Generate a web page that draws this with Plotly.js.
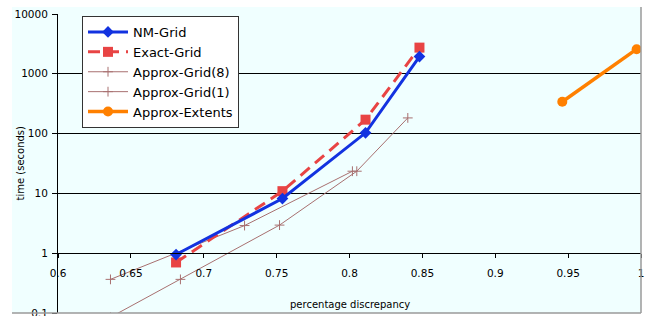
<!DOCTYPE html>
<html>
<head>
<meta charset="utf-8">
<script src="https://cdn.plot.ly/plotly-3.0.1.min.js"></script>
<style>
html,body{margin:0;padding:0;background:#ffffff;}
#chart{width:646px;height:316px;}
</style>
</head>
<body>
<div id="chart"></div>
<script>
// ---- data ----
var nmGridX = [0.681, 0.754, 0.811, 0.848];
var nmGridY = [0.95, 8.2, 103, 1940];

var exactGridX = [0.681, 0.754, 0.811, 0.848];
var exactGridY = [0.70, 10.9, 171, 2740];

var approxGrid8X = [0.636, 0.728, 0.802];
var approxGrid8Y = [0.365, 2.9, 23.5];

var approxGrid1X = [0.636, 0.684, 0.752, 0.805, 0.840];
var approxGrid1Y = [0.085, 0.365, 2.95, 23.5, 183];

var approxExtentsX = [0.946, 0.997];
var approxExtentsY = [341, 2580];

var seriesNames = ["NM-Grid", "Exact-Grid", "Approx-Grid(8)", "Approx-Grid(1)", "Approx-Extents"];

var xTickVals = [0.6, 0.65, 0.7, 0.75, 0.8, 0.85, 0.9, 0.95, 1];
var xTickText = ["0.6", "0.65", "0.7", "0.75", "0.8", "0.85", "0.9", "0.95", "1"];
var yTickVals = [0.1, 1, 10, 100, 1000, 10000];
var yTickText = ["0.1", "1", "10", "100", "1000", "10000"];

var xTitle = "percentage discrepancy";
var yTitle = "time (seconds)";

// ---- styling ----
var FONT = "DejaVu Sans, Verdana, sans-serif";
var thinColor = "#A87070";

var traces = [
  {
    x: approxGrid1X, y: approxGrid1Y, name: seriesNames[3], legendrank: 4,
    mode: "lines+markers", type: "scatter",
    line: {color: thinColor, width: 1},
    marker: {symbol: "cross-thin", size: 7, color: thinColor, line: {color: thinColor, width: 1}}
  },
  {
    x: approxGrid8X, y: approxGrid8Y, name: seriesNames[2], legendrank: 3,
    mode: "lines+markers", type: "scatter",
    line: {color: thinColor, width: 1},
    marker: {symbol: "cross-thin", size: 7, color: thinColor, line: {color: thinColor, width: 1}}
  },
  {
    x: exactGridX, y: exactGridY, name: seriesNames[1], legendrank: 2,
    mode: "lines+markers", type: "scatter",
    line: {color: "#E84444", width: 3, dash: "12px,7px"},
    marker: {symbol: "square", size: 10, color: "#E84444"}
  },
  {
    x: nmGridX, y: nmGridY, name: seriesNames[0], legendrank: 1,
    mode: "lines+markers", type: "scatter",
    line: {color: "#1232E0", width: 3},
    marker: {symbol: "diamond", size: 9, color: "#1232E0"}
  },
  {
    x: approxExtentsX, y: approxExtentsY, name: seriesNames[4], legendrank: 5,
    mode: "lines+markers", type: "scatter",
    line: {color: "#FF8000", width: 3.5},
    marker: {symbol: "circle", size: 10, color: "#FF8000"}
  }
];

var W = 646, H = 316;
var mL = 58, mT = 14, mR = 5, mB = 3;
var pw = W - mL - mR, ph = H - mT - mB;
function px(xp){ return (xp - mL) / pw; }
function py(yp){ return (H - mB - yp) / ph; }

var layout = {
  width: W, height: H,
  margin: {l: mL, r: mR, t: mT, b: mB, pad: 0},
  paper_bgcolor: "#ffffff",
  plot_bgcolor: "rgba(0,0,0,0)",
  font: {family: FONT, size: 10.5, color: "#000000"},
  showlegend: true,
  legend: {
    x: px(82), y: py(16), xanchor: "left", yanchor: "top",
    bgcolor: "#ffffff", bordercolor: "#333333", borderwidth: 1,
    font: {family: FONT, size: 13, color: "#000000"},
    itemwidth: 40,
    traceorder: "normal"
  },
  xaxis: {
    type: "linear", range: [0.6, 1.0],
    anchor: "free", position: 0.2,
    showline: true, linecolor: "#000000", linewidth: 1,
    showgrid: false, zeroline: false,
    ticks: "outside", ticklen: 4, tickcolor: "#000000", tickwidth: 1,
    tickvals: xTickVals, ticktext: xTickText,
    tickfont: {family: FONT, size: 10.5, color: "#000000"},
    ticklabelstandoff: 6,
    ticklabeloverflow: "allow"
  },
  yaxis: {
    type: "log", range: [-1, 4],
    showline: true, linecolor: "#000000", linewidth: 1,
    showgrid: true, gridcolor: "#000000", gridwidth: 1,
    zeroline: false,
    ticks: "outside", ticklen: 5, tickcolor: "#000000", tickwidth: 1,
    tickvals: yTickVals, ticktext: yTickText,
    tickfont: {family: FONT, size: 10.5, color: "#000000"},
    ticklabelstandoff: 2,
    ticklabeloverflow: "allow"
  },
  shapes: [
    {type: "rect", xref: "paper", yref: "paper", layer: "below",
     x0: px(12), x1: 1, y0: 0, y1: py(7),
     fillcolor: "#F0FFFF", line: {width: 0}},
    {type: "line", xref: "paper", yref: "paper", layer: "above",
     x0: 1, x1: 1, y0: 0, y1: py(7),
     line: {color: "#9A9A9A", width: 1.5}},
    {type: "line", xref: "paper", yref: "paper", layer: "above",
     x0: px(12), x1: 1, y0: 0, y1: 0,
     line: {color: "#9A9A9A", width: 1.5}}
  ],
  annotations: [
    {text: xTitle, xref: "paper", yref: "paper", x: 0.5, y: py(304),
     xanchor: "center", yanchor: "middle", showarrow: false,
     font: {family: FONT, size: 10, color: "#000000"}},
    {text: yTitle, xref: "paper", yref: "paper", x: px(20), y: 0.5,
     xanchor: "center", yanchor: "middle", showarrow: false, textangle: -90,
     font: {family: FONT, size: 10, color: "#000000"}}
  ]
};

Plotly.newPlot("chart", traces, layout, {staticPlot: true, displayModeBar: false});
</script>
</body>
</html>
